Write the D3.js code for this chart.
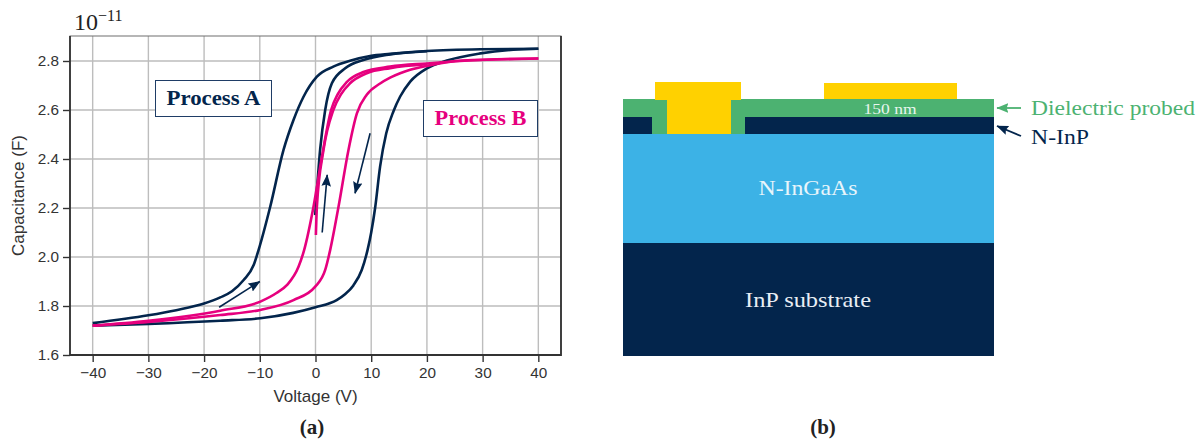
<!DOCTYPE html>
<html><head><meta charset="utf-8">
<style>html,body{margin:0;padding:0;background:#fff}svg{display:block}</style>
<script src="https://cdnjs.cloudflare.com/ajax/libs/d3/7.8.5/d3.min.js"></script>
</head><body><svg id="c" width="1198" height="439"></svg>
<script>
// Voltage (V), capacitance (1e-11 F)
const xTicks=[-40,-30,-20,-10,0,10,20,30,40];
const yTicks=[1.6,1.8,2.0,2.2,2.4,2.6,2.8];
const navyUpper=[[-40,1.73],[-30,1.762],[-25,1.783],[-20,1.81],[-17.1,1.835],[-15,1.86],[-12.9,1.906],[-11.1,1.967],[-10.2,2.03],[-8.13,2.205],[-5.74,2.437],[-3.95,2.559],[-2.15,2.654],[0.25,2.736],[3.2,2.777],[6.2,2.801],[9.8,2.82],[13.4,2.829],[20,2.841],[29.6,2.848],[40,2.85]];
const navyStart=[[-0.05,2.171],[0.84,2.44],[1.74,2.6],[2.94,2.709],[5.33,2.77],[8.6,2.804],[13.4,2.827],[20,2.84]];
const navyLower=[[-40,1.72],[-30,1.727],[-17.1,1.74],[-9.9,1.75],[-4,1.772],[0,1.795],[3.8,1.824],[5.3,1.848],[6.8,1.884],[8.3,1.947],[9.35,2.029],[10,2.1],[10.7,2.2],[11.6,2.37],[12.7,2.505],[14,2.595],[15.2,2.655],[17,2.716],[20,2.77],[23.6,2.802],[29.6,2.831],[35.5,2.846],[40,2.85]];
const pinkUpper=[[-40,1.72],[-30,1.74],[-17.1,1.781],[-9.9,1.818],[-7,1.853],[-5.1,1.886],[-3.05,1.96],[-2.03,2.029],[-0.36,2.205],[1.15,2.409],[2.8,2.6],[4,2.665],[5.6,2.714],[8.6,2.755],[13.4,2.777],[20,2.79],[29.6,2.804],[40,2.81]];
const pinkStart=[[0.07,2.09],[0.25,2.205],[1.44,2.437],[3.2,2.6],[4.6,2.665],[6.2,2.709],[9.2,2.75],[13.4,2.771],[20,2.787]];
const pinkLower=[[-40,1.72],[-30,1.735],[-17.1,1.763],[-9.9,1.784],[-3.95,1.824],[-0.05,1.879],[1.74,1.947],[2.64,2.029],[4.13,2.205],[5.92,2.437],[7.43,2.586],[9.2,2.662],[11.6,2.708],[13.4,2.732],[15.2,2.75],[17,2.764],[20,2.78],[26.5,2.802],[40,2.81]];
const chartArrows=[[[-17.3,1.795],[-10,1.9]],[[1.2,2.1],[2.1,2.335]],[[9.8,2.505],[7.1,2.26]]];
// Device cross-section, in units across/down the stack
const layers=[
 {x0:0,x1:371,y0:0,y1:18,c:"#4cb271"},
 {x0:0,x1:371,y0:18,y1:35,c:"#03254c"},
 {x0:0,x1:371,y0:35,y1:144,c:"#3cb2e6"},
 {x0:0,x1:371,y0:144,y1:257,c:"#03254c"},
 {x0:29,x1:122,y0:18,y1:35,c:"#4cb271"},
 {x0:44,x1:108,y0:1,y1:35,c:"#ffd100"},
 {x0:32,x1:118,y0:-17,y1:1,c:"#ffd100"},
 {x0:201,x1:334,y0:-16,y1:0,c:"#ffd100"}];

const svg=d3.select("#c");
const x=d3.scaleLinear().domain([-44.07,44.07]).range([70,561]);
const y=d3.scaleLinear().domain([1.6,2.902]).range([355,36]);
const NAVY="#03254c",PINK="#e6007e",GREEN="#4cb271";
const SANS="Liberation Sans, Arial, sans-serif",SER2="'Liberation Serif', serif";

const defs=svg.append("defs");
[["hN",NAVY],["hG",GREEN]].forEach(([id,c])=>defs.append("marker").attr("id",id).attr("viewBox","0 0 10 8").attr("refX",9.5).attr("refY",4)
 .attr("markerUnits","userSpaceOnUse").attr("markerWidth",12).attr("markerHeight",9.6).attr("orient","auto")
 .append("path").attr("d","M0,0L10,4L0,8L1.5,4Z").attr("fill",c));

// grid
svg.append("g").selectAll("line").data(xTicks).join("line").attr("x1",d=>x(d)).attr("x2",d=>x(d)).attr("y1",36).attr("y2",355).attr("stroke","#bdbdbd").attr("stroke-width",1.4);
svg.append("g").selectAll("line").data(yTicks).join("line").attr("y1",d=>y(d)).attr("y2",d=>y(d)).attr("x1",70).attr("x2",561).attr("stroke","#bdbdbd").attr("stroke-width",1.4);

// curves
const line=d3.line().x(d=>x(d[0])).y(d=>y(d[1])).curve(d3.curveMonotoneX);
[[navyUpper,NAVY],[navyLower,NAVY],[navyStart,NAVY],[pinkLower,PINK],[pinkUpper,PINK],[pinkStart,PINK]].forEach(([d,c])=>
 svg.append("path").attr("d",line(d)).attr("fill","none").attr("stroke",c).attr("stroke-width",2.6).attr("stroke-linecap","butt"));
svg.selectAll(".ca").data(chartArrows).join("line").attr("class","ca")
 .attr("x1",d=>x(d[0][0])).attr("y1",d=>y(d[0][1])).attr("x2",d=>x(d[1][0])).attr("y2",d=>y(d[1][1]))
 .attr("stroke",NAVY).attr("stroke-width",1.6).attr("marker-end","url(#hN)");

// frame
svg.append("rect").attr("x",70).attr("y",36).attr("width",491).attr("height",319).attr("fill","none").attr("stroke","#6e6e6e").attr("stroke-width",1);
svg.append("path").attr("d","M70,36V355H561V36").attr("fill","none").attr("stroke","#333").attr("stroke-width",1.8);

// axes
const fmt=d=>d<0?"\u2212"+Math.abs(d):""+d;
const ax=svg.append("g").attr("transform","translate(0,355)").call(d3.axisBottom(x).tickValues(xTicks).tickFormat(fmt).tickSize(7).tickPadding(5));
const ay=svg.append("g").attr("transform","translate(70,0)").call(d3.axisLeft(y).tickValues(yTicks).tickFormat(d3.format(".1f")).tickSize(7).tickPadding(4));
[ax,ay].forEach(g=>{g.select(".domain").remove();g.selectAll("line").attr("stroke","#333").attr("stroke-width",1.4);
 g.selectAll("text").attr("fill","#333").attr("font-family",SANS).attr("font-size",15.3);});
svg.append("text").attr("x",315.5).attr("y",402).attr("text-anchor","middle").attr("font-family",SANS).attr("font-size",17).attr("fill","#333").text("Voltage (V)");
svg.append("text").attr("transform","translate(24,195.5) rotate(-90)").attr("text-anchor","middle").attr("font-family",SANS).attr("font-size",17).attr("fill","#333").text("Capacitance (F)");
const exp=svg.append("text").attr("x",74).attr("y",30).attr("font-family",SER2).attr("font-size",24).attr("fill","#222");
exp.append("tspan").text("10");
exp.append("tspan").attr("dy",-9).attr("font-size",16).text("\u221211");

// process boxes
function box(xp,yp,w,h,label,c){
 svg.append("rect").attr("x",xp).attr("y",yp).attr("width",w).attr("height",h).attr("fill","#fff").attr("stroke","#1f3d66").attr("stroke-width",1);
 svg.append("text").attr("x",xp+w/2).attr("y",yp+h/2+6.5).attr("text-anchor","middle").attr("font-family",SER2).attr("font-weight","bold").attr("font-size",20).attr("textLength",w-22).attr("lengthAdjust","spacingAndGlyphs").attr("fill",c).text(label);
}
box(155.5,80.5,116,36,"Process A",NAVY);
box(423.5,100.5,114,36,"Process B",PINK);

// cross-section
const dx=d3.scaleLinear().domain([0,371]).range([623,994]);
const dy=d3.scaleLinear().domain([0,257]).range([99,356]);
svg.append("g").selectAll("rect").data(layers).join("rect")
 .attr("x",d=>dx(d.x0)).attr("width",d=>dx(d.x1)-dx(d.x0)).attr("y",d=>dy(d.y0)).attr("height",d=>dy(d.y1)-dy(d.y0)).attr("fill",d=>d.c);
function st(xp,yp,t,size,c,len,anchor){
 const e=svg.append("text").attr("x",xp).attr("y",yp).attr("font-family",SER2).attr("font-size",size).attr("fill",c).attr("text-anchor",anchor||"start").text(t);
 if(len) e.attr("textLength",len).attr("lengthAdjust","spacingAndGlyphs");
}
st(890,114,"150 nm",15,"#e8f6ee",53,"middle");
st(808,195,"N-InGaAs",21,"#e8f5fb",99,"middle");
st(808,307,"InP substrate",21,"#e8eef5",126,"middle");
st(1031,115,"Dielectric probed",22,GREEN,164);
st(1031,144,"N-InP",22,NAVY,58);
svg.append("line").attr("x1",1021).attr("y1",108).attr("x2",997).attr("y2",108).attr("stroke",GREEN).attr("stroke-width",1.8).attr("marker-end","url(#hG)");
svg.append("line").attr("x1",1021).attr("y1",136).attr("x2",997).attr("y2",126).attr("stroke",NAVY).attr("stroke-width",1.8).attr("marker-end","url(#hN)");

// captions
svg.append("text").attr("x",312).attr("y",434).attr("text-anchor","middle").attr("font-family",SER2).attr("font-weight","bold").attr("font-size",21).attr("fill","#222").text("(a)");
svg.append("text").attr("x",823).attr("y",434).attr("text-anchor","middle").attr("font-family",SER2).attr("font-weight","bold").attr("font-size",21).attr("fill","#222").text("(b)");
</script></body></html>
